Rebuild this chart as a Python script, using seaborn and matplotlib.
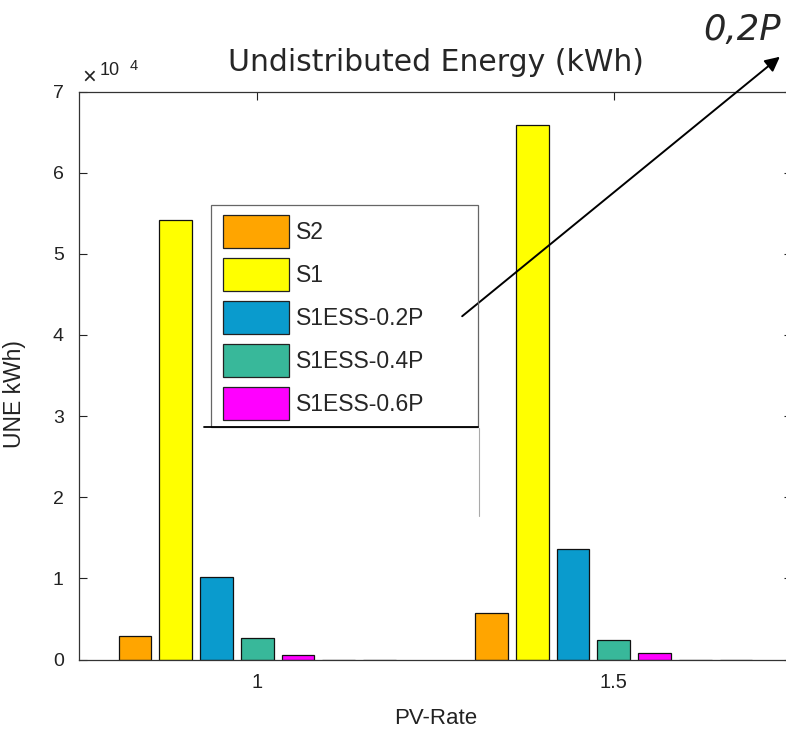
import numpy as np
import matplotlib
matplotlib.use("Agg")
import matplotlib.pyplot as plt
from matplotlib.patches import Patch, Rectangle
from matplotlib.lines import Line2D
import seaborn as sns
import pandas as pd

### datos (UNE en kWh)
pv_rate = ["1", "1.5"]
escenarios = ["S2", "S1", "S1ESS-0.2P", "S1ESS-0.4P", "S1ESS-0.6P", "S1ESS-0.8P", "S1ESS-1.0P"]
une_s2 = [2900, 5700]
une_s1 = [54200, 65900]
une_ess02 = [10200, 13600]
une_ess04 = [2600, 2400]
une_ess06 = [600, 800]
une_ess08 = [0, 0]
une_ess10 = [0, 0]
colores = ["#FFA500", "#FFFF00", "#0A9BCD", "#38B89A", "#FF00FF", "#1f3d7a", "#7a1f1f"]
n_leyenda = 5

valores = [une_s2, une_s1, une_ess02, une_ess04, une_ess06, une_ess08, une_ess10]
filas = []
for esc, vals in zip(escenarios, valores):
	for pv, v in zip(pv_rate, vals):
		filas.append({"PV-Rate": pv, "UNE": v, "Escenario": esc})
df = pd.DataFrame(filas)

sns.set_style("ticks")
plt.rcParams['font.family'] = ['Liberation Sans', 'DejaVu Sans']

W, H = 786, 730
fig = plt.figure(figsize=(W/100, H/100), dpi=100)
ax = fig.add_axes([79/W, 1-659.5/H, 713/W, 568/H])

sns.barplot(data=df, x="PV-Rate", y="UNE", hue="Escenario", order=pv_rate,
			hue_order=escenarios, palette=colores, saturation=1, gap=0.2,
			edgecolor="#111111", linewidth=0.9, errorbar=None, legend=False, ax=ax)

ax.set_xlim(-0.5, 1.5)
ax.set_ylim(0, 70000)
ax.set_yticks(np.arange(0, 70001, 10000))
ax.set_yticklabels([str(i) for i in range(8)])
ax.tick_params(direction='in', top=True, right=True, length=5.5, width=0.8,
			   colors='#222222')
ax.tick_params(axis='y', pad=11, labelsize=14)
ax.tick_params(axis='x', pad=10, labelsize=14.5)
for s in ax.spines.values():
	s.set_color('#333333')
	s.set_linewidth(0.9)

ax.set_xlabel("PV-Rate", fontsize=16, labelpad=11, color='#222222')
ax.set_ylabel("UNE kWh)", fontsize=16.5, color='#222222')
ax.yaxis.set_label_coords((26-79)/713, (659.5-394)/568)

# multiplicador del eje y
ax.text(0.0042, 1.0132, "\u00d7", transform=ax.transAxes, fontsize=17,
		ha='left', va='baseline', color='#222222')
ax.text(0.0295, 1.029, "10", transform=ax.transAxes, fontsize=13,
		ha='left', va='baseline', color='#222222')
ax.text(0.0715, 1.038, "4", transform=ax.transAxes, fontsize=10.5,
		ha='left', va='baseline', color='#222222')

fig.text(436/W, 1-71/H, "Undistributed Energy (kWh)", fontsize=21.5,
		 family='DejaVu Sans', ha='center', va='baseline')

# leyenda con solo 5 entradas
fs_leg = 16.5
px = fs_leg*100/72
hh = (33/px - 0.245)/0.65   # matplotlib le resta un descent al alto del handle
handles = [Patch(facecolor=colores[i], edgecolor='#222222', linewidth=0.9, label=escenarios[i])
		   for i in range(n_leyenda)]
leg = ax.legend(handles=handles, loc='upper left', bbox_to_anchor=(223/W, 1-215/H),
				bbox_transform=fig.transFigure, fontsize=fs_leg, frameon=False,
				handlelength=66/px, handleheight=hh, labelspacing=10/px,
				handletextpad=7/px, borderpad=0, borderaxespad=0)
fig.add_artist(Rectangle((211/W, 1-427/H), 267/W, 222/H, transform=fig.transFigure,
						 fill=False, edgecolor='#666666', lw=0.9))

# lineas sueltas debajo de la leyenda
fig.add_artist(Line2D([204/W, 478/W], [1-427/H, 1-427/H], color='black', lw=1.3))
fig.add_artist(Line2D([479/W, 479/W], [1-428/H, 1-516/H], color='#aaaaaa', lw=0.8))

# flecha y anotacion
ax.annotate("", xy=(782/W, 1-55/H), xytext=(460/W, 1-318/H),
			xycoords='figure fraction', textcoords='figure fraction',
			arrowprops=dict(arrowstyle='-|>', color='black', lw=1.4, mutation_scale=22))
fig.text(703/W, 1-40/H, "0,2P", fontsize=25.5, family='DejaVu Sans', style='italic',
		 ha='left', va='baseline')

plt.savefig('out.png', dpi=100)
